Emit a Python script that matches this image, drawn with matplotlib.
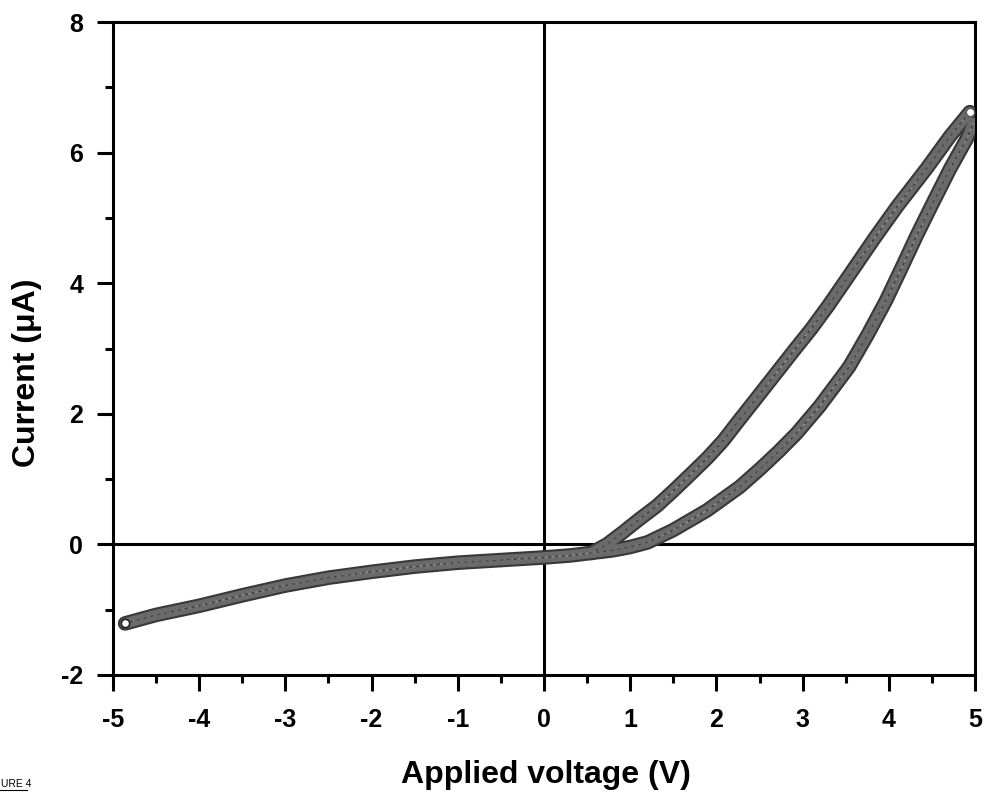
import matplotlib
matplotlib.use("Agg")
import matplotlib.pyplot as plt
from matplotlib.ticker import MultipleLocator
from matplotlib.lines import Line2D

# ---- data ----
neg_x = [-4.86, -4.5, -4.0, -3.5, -3.0, -2.5, -2.0, -1.5, -1.0, -0.5, 0.0, 0.3, 0.55]
neg_y = [-1.21, -1.08, -0.94, -0.78, -0.63, -0.51, -0.42, -0.34, -0.28, -0.24, -0.20, -0.17, -0.13]

up_x = [0.55, 0.73, 0.92, 1.1, 1.31, 1.5, 1.69, 1.9, 2.08, 2.25, 2.43, 2.65, 2.9,
        3.1, 3.3, 3.55, 3.84, 4.1, 4.44, 4.71, 4.94]
up_y = [-0.13, 0.0, 0.19, 0.38, 0.59, 0.82, 1.06, 1.33, 1.59, 1.88, 2.18, 2.55, 2.97,
        3.30, 3.66, 4.14, 4.70, 5.18, 5.76, 6.25, 6.62]

low_x = [0.55, 0.8, 1.0, 1.2, 1.5, 1.89, 2.27, 2.51, 2.72, 2.93, 3.2, 3.54, 3.75,
         3.97, 4.15, 4.32, 4.5, 4.71, 4.9, 4.98]
low_y = [-0.13, -0.09, -0.04, 0.03, 0.22, 0.52, 0.88, 1.16, 1.42, 1.70, 2.12, 2.72, 3.2,
         3.74, 4.24, 4.72, 5.2, 5.75, 6.2, 6.45]

x_ticks = [-5, -4, -3, -2, -1, 0, 1, 2, 3, 4, 5]
y_ticks = [-2, 0, 2, 4, 6, 8]

plt.rcParams['font.family'] = ['Liberation Sans', 'DejaVu Sans']
plt.rcParams['font.weight'] = 'bold'

fig = plt.figure(figsize=(9.86, 7.92), dpi=100)
ax = fig.add_axes([113/986, 1 - 675/792, (975-113)/986, (675-22)/792])

for xs, ys in [(neg_x, neg_y), (up_x, up_y), (low_x, low_y)]:
    ax.plot(xs, ys, color='#383838', lw=10.5, solid_capstyle='round',
            solid_joinstyle='round', zorder=3)
    ax.plot(xs, ys, color='#6a6a6a', lw=7.5, solid_capstyle='round',
            solid_joinstyle='round', zorder=4)
    ax.plot(xs, ys, color='#8c8c8c', lw=1.2, ls=(0, (1.5, 2.5)), zorder=5)
    ax.plot(xs, ys, color='#3e3e3e', lw=1.0, ls=(1, (2, 3)), zorder=5)

# end markers
ax.plot([neg_x[0]], [neg_y[0]], 'o', ms=6, mfc='white', mec='#222222', mew=1.2, zorder=6)
ax.plot([up_x[-1]], [up_y[-1]], 'o', ms=6, mfc='white', mec='#555555', mew=1.0, zorder=6)

ax.axhline(0, color='black', lw=2.2, zorder=2)
ax.axvline(0, color='black', lw=2.2, zorder=2)

ax.set_xlim(-5, 5)
ax.set_ylim(-2, 8)
ax.set_xticks(x_ticks)
ax.set_yticks(y_ticks)
ax.xaxis.set_minor_locator(MultipleLocator(0.5))
ax.yaxis.set_minor_locator(MultipleLocator(1))
ax.set_xticklabels([str(v) for v in x_ticks])
ax.set_yticklabels([str(v) for v in y_ticks])

for s in ax.spines.values():
    s.set_linewidth(2.2)
ax.tick_params(which='major', direction='out', length=11.5, width=2.2,
               labelsize=18, pad=10)
ax.tick_params(axis='x', which='major', pad=12)
ax.tick_params(which='minor', direction='out', length=5.8, width=2.2)
ax.tick_params(top=False, right=False, which='both')
for lab in ax.get_xticklabels() + ax.get_yticklabels():
    lab.set_fontweight('bold')

# axis titles
fig.text(546/986, 1 - 783/792, 'Applied voltage (V)', ha='center', va='baseline',
         fontsize=23, fontweight='bold')
fig.text(27/986, 1 - 373/792, 'Current (\u03bcA)', ha='center', va='center',
         rotation=90, fontsize=23, fontweight='bold')

# partially visible figure caption at bottom-left
fig.text(1/986, 1 - 787/792, 'URE 4', ha='left', va='baseline',
         fontsize=7.5, fontweight='normal')
fig.add_artist(Line2D([0, 27/986], [1 - 789.5/792, 1 - 789.5/792], color='black', lw=0.8))

fig.savefig('out.png', dpi=100)
